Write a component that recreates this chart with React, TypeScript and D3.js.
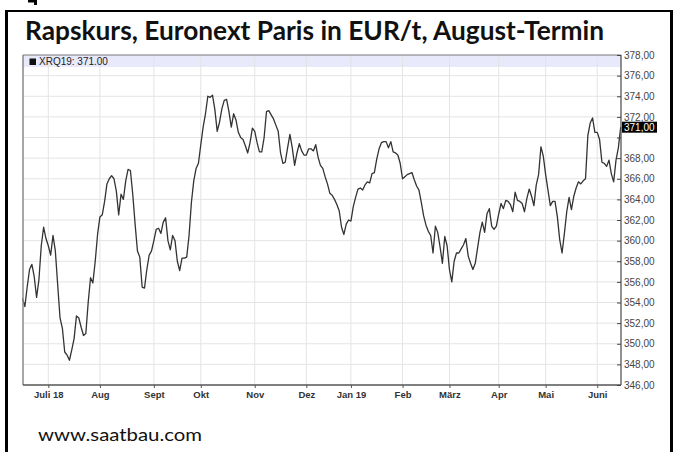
import React, { useEffect, useRef } from "react";
import * as d3 from "d3";

// daily closes (trading days), one array per month
const jun18 = [354.4, 353.6, 355.5, 357.2, 357.7, 356.5, 354.5, 356.2, 359.5, 361.3, 360.2];
const jul18 = [359.5, 358.6, 360.5, 359.0, 355.7, 352.5, 351.5, 349.2, 348.9, 348.4, 349.4, 350.5, 352.7, 352.5, 351.6, 350.8, 351.0, 354.0, 356.4, 355.9, 358.0, 360.6];
const aug18 = [362.3, 362.5, 363.8, 365.5, 366.0, 366.3, 366.0, 364.8, 362.5, 364.5, 364.0, 365.8, 366.9, 366.8, 364.5, 361.6, 359.0, 358.4, 355.5, 355.4, 357.2, 358.6, 359.0];
const sep18 = [360.0, 361.1, 361.2, 360.7, 361.8, 362.2, 360.0, 359.1, 360.5, 360.0, 358.0, 357.1, 358.3, 358.3, 358.4, 360.5, 363.7, 365.8, 367.0, 367.5];
const oct18 = [369.3, 371.0, 372.3, 374.0, 373.9, 374.1, 372.7, 370.6, 371.5, 372.8, 373.6, 373.7, 372.5, 371.0, 372.3, 371.7, 370.5, 370.0, 369.8, 369.2, 368.5, 369.5, 370.9];
const nov18 = [370.6, 369.5, 368.6, 368.6, 370.0, 372.5, 372.6, 372.2, 371.8, 371.2, 370.6, 368.5, 367.5, 367.6, 369.0, 370.3, 369.0, 367.3, 368.5, 369.4, 368.7, 368.3];
const dec18 = [368.3, 368.9, 368.9, 368.7, 369.3, 368.1, 367.3, 367.0, 366.2, 365.5, 364.6, 364.4, 364.0, 363.5, 362.9, 361.3, 360.6, 361.6, 362.0];
const jan19 = [361.9, 363.3, 364.2, 365.0, 365.1, 364.9, 365.4, 365.7, 365.6, 366.5, 366.6, 367.9, 368.9, 369.5, 369.6, 369.6, 369.0, 369.6, 368.6, 368.5, 368.3, 367.5];
const feb19 = [366.0, 366.2, 366.4, 366.5, 366.6, 365.9, 365.3, 364.9, 363.7, 362.4, 361.5, 360.9, 360.5, 358.8, 361.4, 360.8, 359.4, 357.8, 360.4, 359.5];
const mar19 = [357.2, 356.0, 358.0, 358.8, 358.8, 359.2, 359.6, 360.2, 358.5, 357.8, 357.2, 357.8, 359.3, 360.8, 361.8, 360.8, 362.6, 363.1, 361.4, 361.1, 361.4];
const apr19 = [362.6, 363.6, 363.1, 363.9, 363.8, 363.5, 362.8, 364.7, 363.9, 363.8, 363.6, 362.8, 364.1, 365.0, 364.3, 363.4, 365.4, 366.4, 369.1, 368.2];
const may19 = [366.4, 364.9, 363.4, 363.8, 363.8, 362.3, 360.1, 358.8, 360.7, 362.8, 364.2, 363.0, 364.3, 365.1, 365.7, 365.5, 365.8, 366.0, 370.2, 371.4, 371.9, 370.5];
const jun19 = [370.5, 369.8, 367.6, 367.5, 367.2, 367.8, 366.5, 365.7, 367.8, 369.0, 371.0];

const monthLabels = ["Juli 18", "Aug", "Sept", "Okt", "Nov", "Dez", "Jan 19", "Feb", "März", "Apr", "Mai", "Juni"];
const yTicks = d3.range(346, 379, 2);
const lastValue = 371.0;

const App = () => {
  const ref = useRef<SVGSVGElement>(null);

  useEffect(() => {
    const width = 674;
    const height = 452;
    const plot = { left: 23, right: 621, top: 55, bottom: 385 };

    const svg = d3.select(ref.current);
    svg.selectAll("*").remove();

    const months = [jun18, jul18, aug18, sep18, oct18, nov18, dec18, jan19, feb19, mar19, apr19, may19, jun19];
    const closes = months.flat();
    const starts: number[] = [];
    let n = 0;
    months.forEach((m) => { starts.push(n); n += m.length; });
    const monthIdx = starts.slice(1);

    const x = d3.scaleLinear().domain([0, closes.length - 1]).range([22.5, 620.7]);
    const y = d3.scaleLinear().domain([346, 378]).range([plot.bottom, plot.top]);

    svg.append("rect").attr("width", width).attr("height", height).attr("fill", "#fff");

    // outer black frame
    svg.append("rect").attr("x", 5).attr("y", 10).attr("width", 3).attr("height", height - 10).attr("fill", "#000");
    svg.append("rect").attr("x", 670).attr("y", 10).attr("width", 3).attr("height", height - 10).attr("fill", "#000");
    svg.append("rect").attr("x", 5).attr("y", 10).attr("width", 668).attr("height", 2).attr("fill", "#000");
    svg.append("path").attr("d", "M28,0H37V5H34V2.5H28Z").attr("fill", "#000");

    svg.append("text")
      .attr("x", 25).attr("y", 40)
      .attr("font-family", "Lato, 'Open Sans', sans-serif")
      .attr("font-weight", "bold").attr("font-size", 26)
      .attr("textLength", 579).attr("lengthAdjust", "spacingAndGlyphs")
      .attr("fill", "#111")
      .text("Rapskurs, Euronext Paris in EUR/t, August-Termin");

    // legend band
    svg.append("rect")
      .attr("x", plot.left).attr("y", plot.top)
      .attr("width", plot.right - plot.left).attr("height", 12)
      .attr("fill", "#e8e9fb");

    // grid
    svg.append("g").selectAll("line")
      .data(yTicks.slice(1, -1))
      .join("line")
      .attr("x1", plot.left).attr("x2", plot.right)
      .attr("y1", d => y(d)).attr("y2", d => y(d))
      .attr("stroke", "#e4e4e4");
    svg.append("g").selectAll("line")
      .data(monthIdx)
      .join("line")
      .attr("x1", d => x(d)).attr("x2", d => x(d))
      .attr("y1", plot.top).attr("y2", plot.bottom)
      .attr("stroke", "#e4e4e4");

    // price line
    const line = d3.line<number>().x((d, i) => x(i)).y(d => y(d));
    svg.append("path")
      .datum(closes)
      .attr("d", line)
      .attr("fill", "none")
      .attr("stroke", "#333")
      .attr("stroke-width", 1.3)
      .attr("stroke-linejoin", "round");

    // plot border
    svg.append("line").attr("x1", plot.left).attr("x2", plot.left).attr("y1", plot.top).attr("y2", plot.bottom).attr("stroke", "#888").attr("stroke-width", 1.5);
    svg.append("line").attr("x1", plot.left).attr("x2", plot.right).attr("y1", plot.top).attr("y2", plot.top).attr("stroke", "#777");
    svg.append("line").attr("x1", plot.left).attr("x2", plot.right).attr("y1", plot.bottom).attr("y2", plot.bottom).attr("stroke", "#555").attr("stroke-width", 1.3);
    svg.append("line").attr("x1", plot.right).attr("x2", plot.right).attr("y1", plot.top).attr("y2", plot.bottom).attr("stroke", "#555").attr("stroke-width", 1.3);

    // right axis
    const yAxis = svg.append("g")
      .attr("transform", `translate(${plot.right},0)`)
      .call(d3.axisRight(y).tickValues(yTicks).tickSizeInner(-4).tickSizeOuter(0).tickPadding(3)
        .tickFormat(d => (d === 370 ? "" : (d as number).toFixed(2).replace(".", ","))));
    yAxis.select(".domain").remove();
    yAxis.selectAll(".tick line").attr("stroke", "#444");
    yAxis.selectAll(".tick text")
      .attr("font-family", "'Liberation Sans', Arial, sans-serif")
      .attr("font-size", 10).attr("fill", "#444");

    // last value marker
    svg.append("rect")
      .attr("x", plot.right + 1).attr("y", y(lastValue) - 5.5)
      .attr("width", 35).attr("height", 11).attr("fill", "#000");
    svg.append("text")
      .attr("x", plot.right + 3).attr("y", y(lastValue) + 3.6)
      .attr("font-family", "'Liberation Sans', Arial, sans-serif")
      .attr("font-size", 10).attr("fill", "#fff")
      .text(lastValue.toFixed(2).replace(".", ","));

    // bottom axis
    const xAxis = svg.append("g")
      .attr("transform", `translate(0,${plot.bottom})`)
      .call(d3.axisBottom(x).tickValues(monthIdx).tickSizeInner(3).tickSizeOuter(0).tickPadding(3)
        .tickFormat((d, i) => monthLabels[i]));
    xAxis.select(".domain").remove();
    xAxis.selectAll(".tick line").attr("stroke", "#555");
    xAxis.selectAll(".tick text")
      .attr("font-family", "'Liberation Sans', Arial, sans-serif")
      .attr("font-weight", "bold").attr("font-size", 9.5).attr("fill", "#333");

    // legend
    svg.append("rect").attr("x", 29.5).attr("y", 58.5).attr("width", 6.5).attr("height", 6.5).attr("fill", "#111");
    svg.append("text")
      .attr("x", 39).attr("y", 65)
      .attr("font-family", "'Liberation Sans', Arial, sans-serif")
      .attr("font-size", 10).attr("fill", "#222")
      .text(`XRQ19: ${lastValue.toFixed(2)}`);

    svg.append("text")
      .attr("x", 38).attr("y", 441)
      .attr("font-family", "Lato, 'Open Sans', sans-serif")
      .attr("font-size", 17).attr("fill", "#111")
      .attr("textLength", 164).attr("lengthAdjust", "spacingAndGlyphs")
      .text("www.saatbau.com");
  }, []);

  return (
    <svg
      ref={ref}
      width={674}
      height={452}
      style={{ position: "absolute", left: 0, top: 0 }}
    />
  );
};

export default App;
